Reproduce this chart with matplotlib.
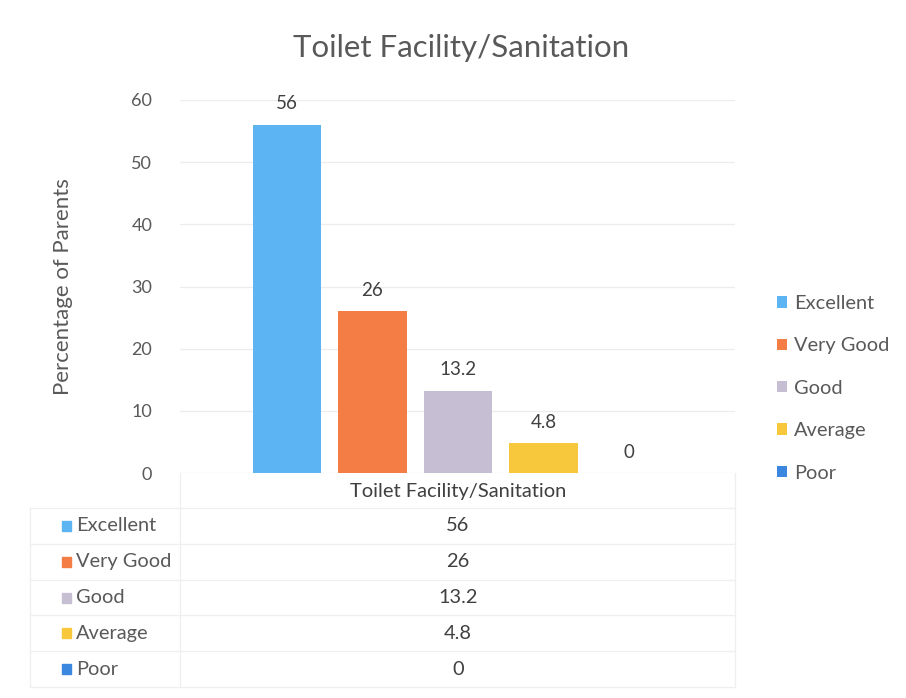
import matplotlib.pyplot as plt
from matplotlib.patches import Rectangle

# categories and values
CATEGORIES = ["Excellent", "Very Good", "Good", "Average", "Poor"]
VALUES = [56, 26, 13.2, 4.8, 0]
VALUE_LABELS = ["56", "26", "13.2", "4.8", "0"]
COLORS = ["#5cb4f2", "#f47c45", "#c6bed3", "#f8c83c", "#3b86df"]
GROUP_NAME = "Toilet Facility/Sanitation"
Y_TICKS = [0, 10, 20, 30, 40, 50, 60]

TEXT = "#595959"
GRID = "#ececec"
plt.rcParams['font.family'] = ['Lato', 'DejaVu Sans']

W, H = 906, 698
fig = plt.figure(figsize=(W / 100, H / 100), dpi=100)
fig.patch.set_facecolor("white")


def fx(px):
    return px / W


def fy(py):
    return 1 - py / H


# main bar axes
ax = fig.add_axes([fx(180), fy(473), fx(735) - fx(180), fy(100) - fy(473)])
for i, (cat, val, col) in enumerate(zip(CATEGORIES, VALUES, COLORS)):
    ax.bar(i, val, width=0.8, color=col, label=cat, zorder=2)
    ax.annotate(VALUE_LABELS[i], (i, val), xytext=(0, 9), textcoords="offset points",
                ha="center", va="bottom", fontsize=13.5, color="#404040")

ax.set_xlim(-1.25, 5.24)
ax.set_ylim(0, 60)
ax.set_yticks(Y_TICKS)
ax.set_xticks([])
ax.tick_params(axis="y", length=0, labelsize=13, colors=TEXT, pad=20)
ax.yaxis.grid(True, color=GRID, linewidth=0.9, zorder=0)
for s in ax.spines.values():
    s.set_visible(False)
ax.set_ylabel("Percentage of Parents", fontsize=16, color=TEXT, labelpad=42)

fig.text(fx(461), fy(48), GROUP_NAME, ha="center", va="center", fontsize=22.5, color=TEXT)

# legend on the right
ax.legend(loc="upper left", bbox_to_anchor=(fx(769), fy(287)), bbox_transform=fig.transFigure,
          frameon=False, fontsize=14.4, labelcolor=TEXT, handlelength=0.5, handleheight=0.5,
          handletextpad=0.35, labelspacing=1.27, borderaxespad=0)

# data table under the chart
tab = fig.add_axes([0, 0, 1, 1], facecolor="none")
tab.set_xlim(0, W)
tab.set_ylim(H, 0)
tab.axis("off")

line_kw = dict(color="#efefef", linewidth=0.9)
row_top = 508
row_h = 35.8
n = len(CATEGORIES)
tab.plot([180, 180], [473, row_top + n * row_h], **line_kw)
tab.plot([735, 735], [473, row_top + n * row_h], **line_kw)
tab.plot([30, 30], [row_top, row_top + n * row_h], **line_kw)
for k in range(n + 1):
    y = row_top + k * row_h
    tab.plot([30, 735], [y, y], **line_kw)
tab.text(458, 492, GROUP_NAME, ha="center", va="center", fontsize=14.5, color="#404040")
for k, (cat, lab, col) in enumerate(zip(CATEGORIES, VALUE_LABELS, COLORS)):
    yc = row_top + (k + 0.5) * row_h
    tab.add_patch(Rectangle((62, yc - 5), 9, 10, color=col))
    tab.text(76, yc, cat, ha="left", va="center", fontsize=14.4, color=TEXT)
    tab.text(458, yc, lab, ha="center", va="center", fontsize=14.4, color="#404040")

fig.savefig("out.png", dpi=100, facecolor="white")
